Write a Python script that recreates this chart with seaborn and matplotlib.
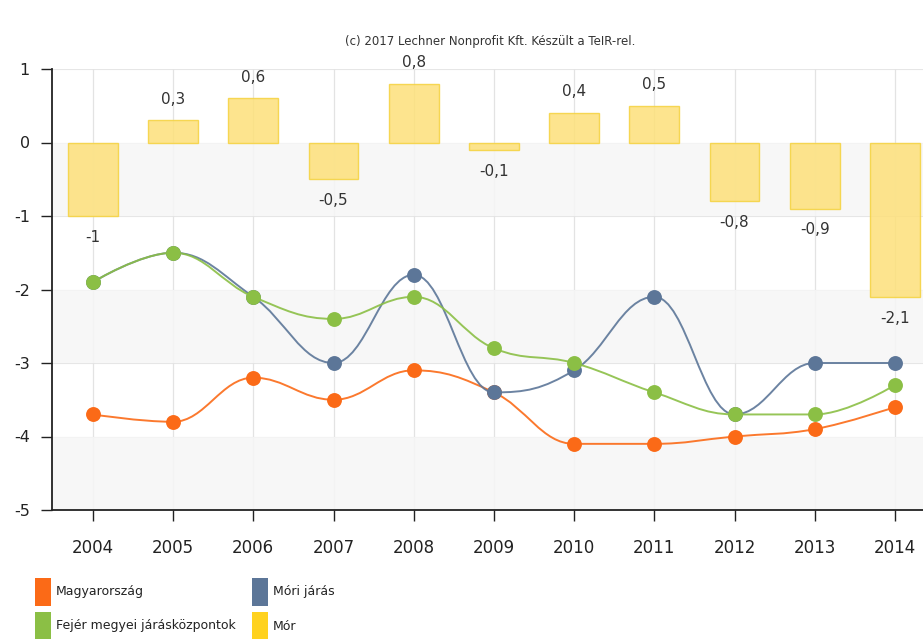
import numpy as np
import pandas as pd
import matplotlib
matplotlib.use("Agg")
import matplotlib.pyplot as plt
from matplotlib.path import Path
from matplotlib.patches import PathPatch, Rectangle
import seaborn as sns

years = ["2004", "2005", "2006", "2007", "2008", "2009", "2010", "2011", "2012", "2013", "2014"]
mor = [-1.0, 0.3, 0.6, -0.5, 0.8, -0.1, 0.4, 0.5, -0.8, -0.9, -2.1]
magyarorszag = [-3.7, -3.8, -3.2, -3.5, -3.1, -3.4, -4.1, -4.1, -4.0, -3.9, -3.6]
mori_jaras = [-1.9, -1.5, -2.1, -3.0, -1.8, -3.4, -3.1, -2.1, -3.7, -3.0, -3.0]
fejer = [-1.9, -1.5, -2.1, -2.4, -2.1, -2.8, -3.0, -3.4, -3.7, -3.7, -3.3]
bar_labels = ["-1", "0,3", "0,6", "-0,5", "0,8", "-0,1", "0,4", "0,5", "-0,8", "-0,9", "-2,1"]

series_names = ["Magyarország", "Móri járás", "Fejér megyei járásközpontok", "Mór"]
colors = {"Magyarország": "#fb6a17", "Móri járás": "#5c7698",
          "Fejér megyei járásközpontok": "#8bbf45", "Mór": "#ffd21f"}

sns.set_theme(style="white")
plt.rcParams['font.family'] = ['DejaVu Sans']

fig = plt.figure(figsize=(9.23, 6.39), dpi=100)
ax = fig.add_axes([52 / 923, 1 - 510 / 639, (923 - 52) / 923, (510 - 69) / 639])

# alternating bands
for lo in (-5, -3, -1):
    ax.axhspan(lo, lo + 1, color="#f6f6f6", zorder=0, lw=0)
for v in (-4, -3, -2, -1, 0, 1):
    ax.axhline(v, color="#e6e6e6", lw=0.8, zorder=0.5)

df_bar = pd.DataFrame({"year": years, "value": mor})
sns.barplot(data=df_bar, x="year", y="value", color="#fde07a", width=0.62,
            edgecolor="#f5d23e", linewidth=1.0, alpha=0.95, ax=ax, zorder=2, saturation=1)
for i in range(len(years)):
    ax.axvline(i, color="#e3e3e3", lw=0.9, zorder=1)
for p in ax.patches:
    p.set_zorder(1.5)
    p.set_alpha(0.85)


def spline_path(xs, ys):
    n = len(xs)
    verts = [(xs[0], ys[0])]
    codes = [Path.MOVETO]
    sm = 1.5
    den = sm + 1
    left = [None] * n
    right = [None] * n
    for i in range(n):
        if i == 0 or i == n - 1:
            left[i] = (xs[i], ys[i])
            right[i] = (xs[i], ys[i])
            continue
        px, py = xs[i], ys[i]
        lx, ly = xs[i - 1], ys[i - 1]
        nx, ny = xs[i + 1], ys[i + 1]
        lcx = (sm * px + lx) / den
        lcy = (sm * py + ly) / den
        rcx = (sm * px + nx) / den
        rcy = (sm * py + ny) / den
        if rcx != lcx:
            corr = ((rcy - lcy) * (rcx - px)) / (rcx - lcx) + py - rcy
            lcy += corr
            rcy += corr
        if lcy > ly and lcy > py:
            lcy = max(ly, py)
            rcy = 2 * py - lcy
        elif lcy < ly and lcy < py:
            lcy = min(ly, py)
            rcy = 2 * py - lcy
        if rcy > ny and rcy > py:
            rcy = max(ny, py)
            lcy = 2 * py - rcy
        elif rcy < ny and rcy < py:
            rcy = min(ny, py)
            lcy = 2 * py - rcy
        left[i] = (lcx, lcy)
        right[i] = (rcx, rcy)
    for i in range(1, n):
        verts += [right[i - 1], left[i], (xs[i], ys[i])]
        codes += [Path.CURVE4] * 3
    return Path(verts, codes)


xpos = np.arange(len(years))
line_series = [("Magyarország", magyarorszag), ("Móri járás", mori_jaras),
               ("Fejér megyei járásközpontok", fejer)]
for k, (name, vals) in enumerate(line_series):
    path = spline_path(list(xpos.astype(float)), list(vals))
    ax.add_patch(PathPatch(path, facecolor="none", edgecolor=colors[name], lw=1.4,
                           zorder=3 + k, alpha=0.9))
    ax.scatter(xpos, vals, s=115, color=colors[name], zorder=3.5 + k, linewidths=0)

# bar labels
for i, (v, lab) in enumerate(zip(mor, bar_labels)):
    off = 0.29 if v >= 0 else -0.29
    ax.text(i, v + off, lab, ha="center", va="center", fontsize=11, color="#333333", zorder=6)

ax.set_xlim(-0.51, 10.35)
ax.set_ylim(-5, 1)
ax.set_yticks([1, 0, -1, -2, -3, -4, -5])
ax.set_yticklabels(["1", "0", "-1", "-2", "-3", "-4", "-5"])
ax.set_xlabel("")
ax.set_ylabel("")
for s in ("top", "right"):
    ax.spines[s].set_visible(False)
for s in ("left", "bottom"):
    ax.spines[s].set_visible(True)
    ax.spines[s].set_color("#222222")
    ax.spines[s].set_linewidth(1.3)
ax.tick_params(axis="y", which="both", left=True, length=8, width=1, color="#222222",
               labelsize=11.5, labelcolor="#222222", pad=8)
ax.tick_params(axis="x", which="both", bottom=True, length=8, width=1, color="#222222",
               labelsize=12, labelcolor="#222222", pad=13)

fig.text(490 / 923, 1 - 42 / 639, "(c) 2017 Lechner Nonprofit Kft. Készült a TeIR-rel.",
         ha="center", va="center", fontsize=8.5, color="#333333")

# legend
leg_items = [("Magyarország", 35, 592), ("Móri járás", 252, 592),
             ("Fejér megyei járásközpontok", 35, 626), ("Mór", 252, 626)]
for name, lx, ly in leg_items:
    fig.patches.append(Rectangle((lx / 923, 1 - (ly + 14) / 639), 16 / 923, 28 / 639,
                                 transform=fig.transFigure, facecolor=colors[name],
                                 edgecolor="none"))
    fig.text((lx + 21) / 923, 1 - ly / 639, name, ha="left", va="center",
             fontsize=9, color="#222222")

fig.savefig("out.png", dpi=100)
